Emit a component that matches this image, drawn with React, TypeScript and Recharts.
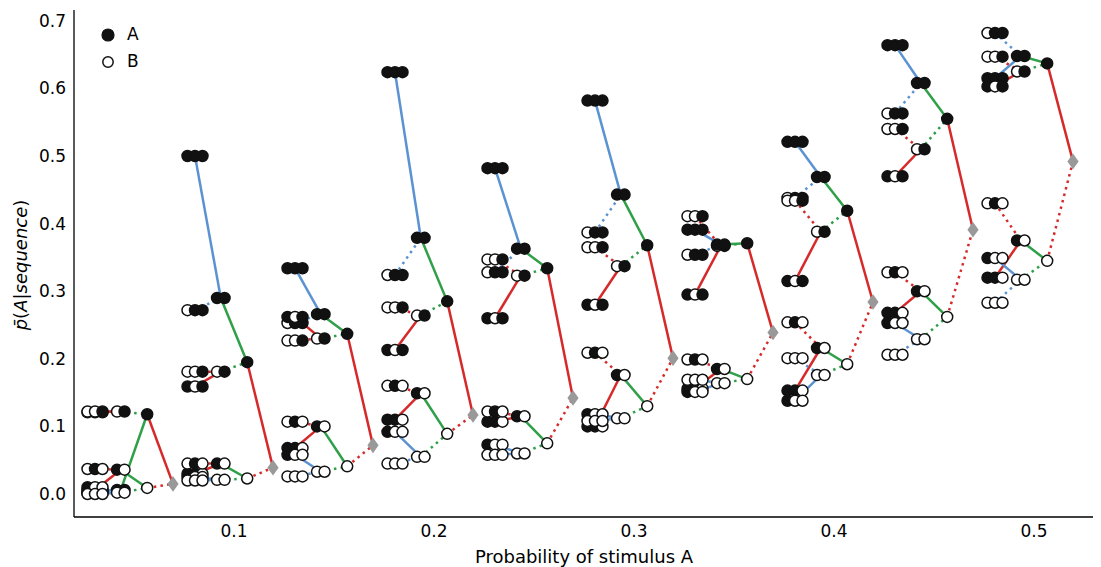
import { Scatter, ScatterChart, XAxis, YAxis } from "recharts";

// stimulus probabilities, one tree of sequences per value
const probs = [0.05, 0.1, 0.15, 0.2, 0.25, 0.3, 0.35, 0.4, 0.45, 0.5];

// p̄(A|sequence), one value per probability; sequences read oldest -> newest
const pEmpty = [0.015, 0.039, 0.072, 0.117, 0.142, 0.201, 0.239, 0.284, 0.391, 0.492];
const pA = [0.118, 0.195, 0.237, 0.285, 0.334, 0.368, 0.371, 0.419, 0.555, 0.637];
const pB = [0.009, 0.023, 0.041, 0.089, 0.075, 0.13, 0.17, 0.192, 0.262, 0.345];
const pAA = [0.006, 0.29, 0.266, 0.379, 0.363, 0.443, 0.369, 0.469, 0.608, 0.648];
const pBA = [0.122, 0.181, 0.23, 0.264, 0.323, 0.337, 0.367, 0.388, 0.51, 0.625];
const pAB = [0.036, 0.045, 0.1, 0.149, 0.115, 0.176, 0.185, 0.216, 0.3, 0.375];
const pBB = [0.002, 0.021, 0.033, 0.055, 0.06, 0.112, 0.164, 0.176, 0.229, 0.317];
const pAAA = [0.003, 0.5, 0.334, 0.624, 0.482, 0.582, 0.391, 0.521, 0.664, 0.615];
const pBAA = [0.001, 0.272, 0.253, 0.324, 0.328, 0.387, 0.354, 0.438, 0.563, 0.682];
const pABA = [0.121, 0.159, 0.262, 0.213, 0.26, 0.28, 0.295, 0.315, 0.47, 0.603];
const pBBA = [0.122, 0.181, 0.227, 0.276, 0.347, 0.365, 0.411, 0.434, 0.54, 0.647];
const pAAB = [0.006, 0.03, 0.068, 0.11, 0.107, 0.1, 0.156, 0.153, 0.268, 0.32];
const pBAB = [0.037, 0.045, 0.107, 0.16, 0.122, 0.209, 0.199, 0.254, 0.328, 0.43];
const pABB = [0.01, 0.025, 0.058, 0.092, 0.073, 0.118, 0.151, 0.138, 0.253, 0.349];
const pBBB = [0.0, 0.02, 0.026, 0.045, 0.058, 0.108, 0.169, 0.201, 0.206, 0.283];

const xTicks = [0.1, 0.2, 0.3, 0.4, 0.5];
const yTicks = [0, 0.1, 0.2, 0.3, 0.4, 0.5, 0.6, 0.7];

// drawing order (later ones sit on top)
const sequences: [string, number[]][] = [
  ["AAA", pAAA], ["BAA", pBAA], ["ABA", pABA], ["BBA", pBBA],
  ["AAB", pAAB], ["BAB", pBAB], ["ABB", pABB], ["BBB", pBBB],
  ["BA", pBA], ["AA", pAA], ["AB", pAB], ["BB", pBB],
  ["A", pA], ["B", pB],
  ["", pEmpty],
];
const table: Record<string, number[]> = Object.fromEntries(sequences);

const BLUE = "#5b93d2";
const GREEN = "#2f9f48";
const RED = "#d62a2a";
const INK = "#111111";
const FONT = "'DejaVu Sans', sans-serif";

// x offset of each column by sequence length (0 = empty sequence)
const levelOffset = [0.0195, 0.0066, -0.0066, -0.0195];
const dotStep = 0.00375;

type Pt = { x: number; y: number; kind: string };

const centre = (seq: string, g: number) => ({
  x: probs[g] + levelOffset[seq.length],
  y: table[seq][g],
});

const markers: Pt[] = [];
const edges: { pts: { x: number; y: number }[]; color: string; dotted: boolean }[] = [];

probs.forEach((_, g) => {
  sequences.forEach(([seq]) => {
    const c = centre(seq, g);
    if (seq.length === 0) {
      markers.push({ ...c, kind: "D" });
      return;
    }
    const n = seq.length;
    for (let i = 0; i < n; i++) {
      markers.push({ x: c.x + (i - (n - 1) / 2) * dotStep, y: c.y, kind: seq[i] });
    }
    // link to the sequence without its oldest item
    const parent = seq.slice(1);
    let color = RED;
    if (n === 2) color = GREEN;
    if (n === 3) color = parent[0] === parent[1] ? BLUE : RED;
    edges.push({ pts: [c, centre(parent, g)], color, dotted: seq[0] === "B" });
  });
});

const NoShape = () => <g />;

const Marker = (props: any) => {
  const { cx, cy, payload } = props;
  if (payload.kind === "D") {
    return (
      <polygon
        points={`${cx},${cy - 7.8} ${cx + 5.6},${cy} ${cx},${cy + 7.8} ${cx - 5.6},${cy}`}
        fill="#999999"
      />
    );
  }
  const filled = payload.kind === "A";
  return <circle cx={cx} cy={cy} r={5.5} fill={filled ? INK : "#ffffff"} stroke={INK} strokeWidth={1.5} />;
};

export default function App() {
  return (
    <div style={{ position: "absolute", left: 0, top: 0, width: 1101, height: 567, fontFamily: FONT }}>
      <ScatterChart width={1101} height={567} margin={{ top: 10, right: 8, bottom: 0, left: 0 }}>
        <XAxis
          type="number"
          dataKey="x"
          domain={[0.02, 0.5295]}
          ticks={xTicks}
          tickFormatter={(v: number) => v.toFixed(1)}
          height={50}
          tickLine={false}
          axisLine={{ stroke: "#000", strokeWidth: 1.3 }}
          tick={{ fill: "#000", fontSize: 17, fontFamily: FONT }}
        />
        <YAxis
          type="number"
          dataKey="y"
          domain={[-0.034, 0.716]}
          ticks={yTicks}
          tickFormatter={(v: number) => v.toFixed(1)}
          width={74}
          tickLine={false}
          axisLine={{ stroke: "#000", strokeWidth: 1.3 }}
          tick={{ fill: "#000", fontSize: 17, fontFamily: FONT }}
        />
        {edges.map((e, i) => (
          <Scatter
            key={`edge-${i}`}
            data={e.pts}
            shape={NoShape}
            line={{
              stroke: e.color,
              strokeWidth: 2.5,
              strokeDasharray: e.dotted ? "2.5 4.2" : undefined,
            }}
            isAnimationActive={false}
          />
        ))}
        <Scatter data={markers} shape={Marker} isAnimationActive={false} />
      </ScatterChart>

      {/* legend */}
      <div style={{ position: "absolute", left: 100, top: 21, fontSize: 17, color: "#000", lineHeight: "27px" }}>
        <div style={{ display: "flex", alignItems: "center" }}>
          <svg width={16} height={16}>
            <circle cx={8} cy={8} r={6} fill={INK} stroke={INK} strokeWidth={1.2} />
          </svg>
          <span style={{ marginLeft: 11 }}>A</span>
        </div>
        <div style={{ display: "flex", alignItems: "center" }}>
          <svg width={16} height={16}>
            <circle cx={8} cy={8} r={5.2} fill="#fff" stroke={INK} strokeWidth={1.5} />
          </svg>
          <span style={{ marginLeft: 11 }}>B</span>
        </div>
      </div>

      {/* axis titles */}
      <div
        style={{
          position: "absolute",
          left: 584,
          top: 556,
          transform: "translate(-50%, -50%)",
          fontSize: 18,
          whiteSpace: "nowrap",
        }}
      >
        Probability of stimulus A
      </div>
      <div
        style={{
          position: "absolute",
          left: 20,
          top: 265,
          transform: "translate(-50%, -50%) rotate(-90deg)",
          fontSize: 18,
          whiteSpace: "nowrap",
        }}
      >
        <i>p&#772;</i>(<i>A</i>|<i>sequence</i>)
      </div>
    </div>
  );
}
